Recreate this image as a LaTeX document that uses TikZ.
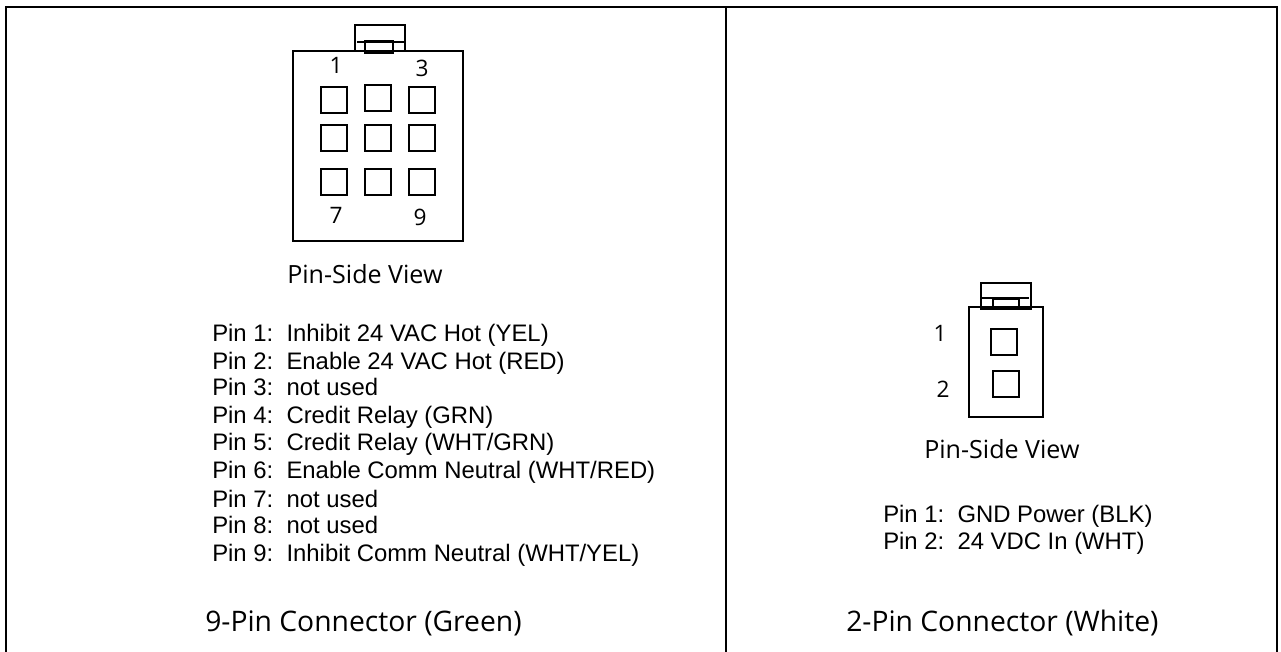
\documentclass[tikz,border=0pt]{standalone}
\usepackage{fontspec}
\setmainfont{Liberation Sans}
\newfontfamily\viewfont{Open Sans}
\tikzset{box/.style = {draw, line width = 1.5pt, inner sep = 0pt, outer sep = 0pt,
                       minimum width = #1},
         box/.default = 26*0.75pt,
         pinbox/.style = {box, minimum height = 26*0.75pt},
         wirelabel/.style = {anchor = base west, inner sep = 0pt, font = \fontsize{17.9}{20}\selectfont},
         viewlabel/.style = {anchor = base west, inner sep = 0pt, font = \viewfont\fontsize{18.8}{20}\selectfont},
         titlelabel/.style = {anchor = base west, inner sep = 0pt, font = \viewfont\fontsize{21.2}{24}\selectfont},
         numlabel/.style = {anchor = base, inner sep = 0pt, font = \viewfont\fontsize{17}{20}\selectfont}
        }

\begin{document}
\begin{tikzpicture}[x=0.75pt, y=-0.75pt]
  \useasboundingbox (0,0) rectangle (1281,652);

  % frame
  \coordinate (topleft) at (6,7.5);
  \coordinate (topmid) at (726,7.5);
  \coordinate (topright) at (1277,7.5);
  \coordinate (botleft) at (6,652);
  \coordinate (botmid) at (726,652);
  \coordinate (botright) at (1277,652);
  \draw[line width = 1.5pt] (botleft) -- (topleft) -- (topright) -- (botright);
  \draw[line width = 1.5pt] (topmid) -- (botmid);

  % 9-pin connector
  \node[box=170*0.75pt, minimum height = 190*0.75pt] (bodyA) at (378,146) {};
  \node[box=50*0.75pt, minimum height = 26*0.75pt] (latchA) at (380,38) {};
  \node[box=28*0.75pt, minimum height = 12*0.75pt] (tabA) at (379,47) {};
  \coordinate (lineAw) at (357,42);
  \coordinate (lineAe) at (404,42);
  \draw[line width = 1.5pt] (lineAw) -- (lineAe);
  \node[pinbox] (pinA1) at (334,100) {};
  \node[pinbox] (pinA2) at (378,98) {};
  \node[pinbox] (pinA3) at (422,100) {};
  \node[pinbox] (pinA4) at (334,138) {};
  \node[pinbox] (pinA5) at (378,138) {};
  \node[pinbox] (pinA6) at (422,138) {};
  \node[pinbox] (pinA7) at (334,182) {};
  \node[pinbox] (pinA8) at (378,182) {};
  \node[pinbox] (pinA9) at (422,182) {};
  \node[numlabel] (numA1) at (336,74) {1};
  \node[numlabel] (numA3) at (422,77) {3};
  \node[numlabel] (numA7) at (336,224) {7};
  \node[numlabel] (numA9) at (420,226) {9};
  \node[viewlabel] (viewA) at (287,283) {Pin-Side View};

  \node[wirelabel] (wireA1) at (212,341) {Pin 1:\ \ Inhibit 24 VAC Hot (YEL)};
  \node[wirelabel] (wireA2) at (212,369) {Pin 2:\ \ Enable 24 VAC Hot (RED)};
  \node[wirelabel] (wireA3) at (212,395) {Pin 3:\ \ not used};
  \node[wirelabel] (wireA4) at (212,423) {Pin 4:\ \ Credit Relay (GRN)};
  \node[wirelabel] (wireA5) at (212,450) {Pin 5:\ \ Credit Relay (WHT/GRN)};
  \node[wirelabel] (wireA6) at (212,478) {Pin 6:\ \ Enable Comm Neutral (WHT/RED)};
  \node[wirelabel] (wireA7) at (212,507) {Pin 7:\ \ not used};
  \node[wirelabel] (wireA8) at (212,533) {Pin 8:\ \ not used};
  \node[wirelabel] (wireA9) at (212,561) {Pin 9:\ \ Inhibit Comm Neutral (WHT/YEL)};
  \node[titlelabel] (titleA) at (205,631) {9-Pin Connector (Green)};

  % 2-pin connector
  \node[box=74*0.75pt, minimum height = 110*0.75pt] (bodyB) at (1006,362) {};
  \node[box=50*0.75pt, minimum height = 26*0.75pt] (latchB) at (1006,296) {};
  \node[box=26*0.75pt, minimum height = 10*0.75pt] (tabB) at (1006,304) {};
  \coordinate (lineBw) at (981,298);
  \coordinate (lineBe) at (1029,298);
  \coordinate (sillBw) at (981,309);
  \coordinate (sillBe) at (1031,309);
  \draw[line width = 1.5pt] (lineBw) -- (lineBe);
  \draw[line width = 2.2pt] (sillBw) -- (sillBe);
  \node[pinbox] (pinB1) at (1004,342) {};
  \node[pinbox] (pinB2) at (1006,384) {};
  \node[numlabel] (numB1) at (940,341) {1};
  \node[numlabel] (numB2) at (943,397) {2};
  \node[viewlabel] (viewB) at (924,458) {Pin-Side View};

  \node[wirelabel] (wireB1) at (883,522) {Pin 1:\ \ GND Power (BLK)};
  \node[wirelabel] (wireB2) at (883,549) {Pin 2:\ \ 24 VDC In (WHT)};
  \node[titlelabel] (titleB) at (846,631) {2-Pin Connector (White)};
\end{tikzpicture}
\end{document}
